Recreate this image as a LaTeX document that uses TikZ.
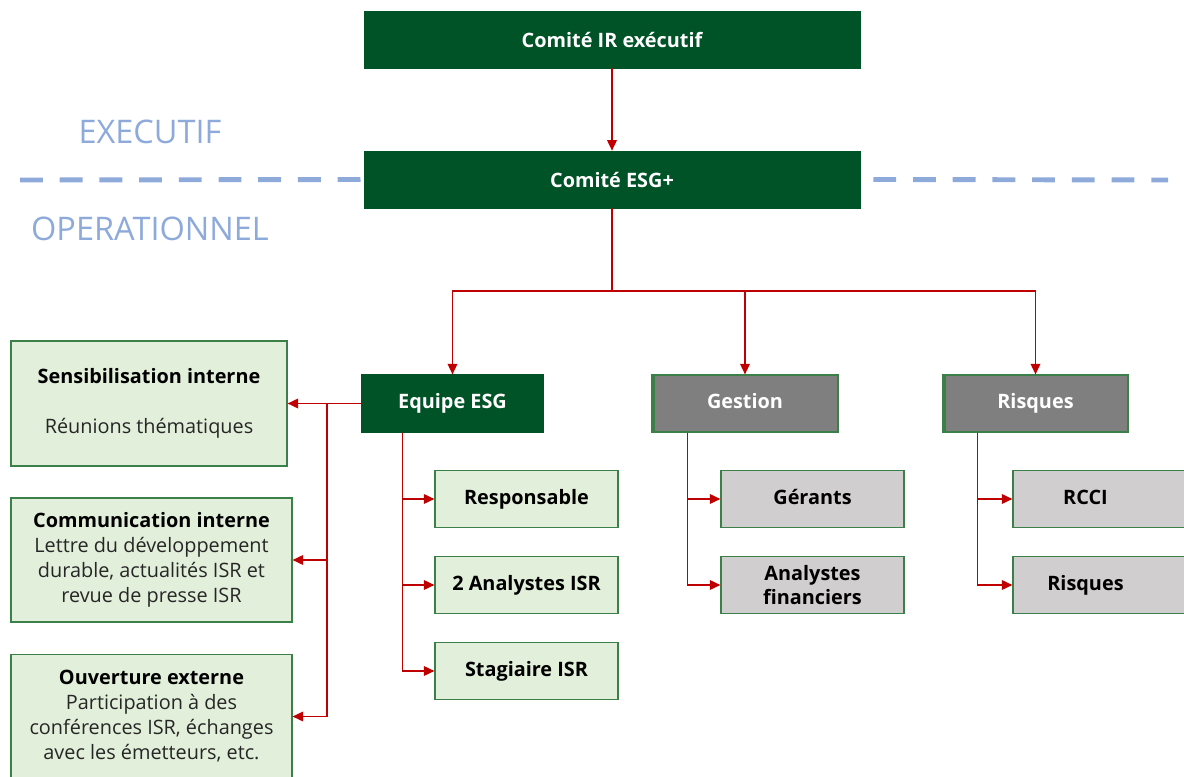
\documentclass[tikz,border=0pt]{standalone}
\usepackage{fontspec}
\setmainfont{Open Sans}
\usetikzlibrary{arrows.meta,calc}
\definecolor{esggreen}{RGB}{0,82,39}
\definecolor{boxgreen}{RGB}{226,239,218}
\definecolor{edgegreen}{RGB}{58,128,72}
\definecolor{childgray}{RGB}{208,206,206}
\definecolor{headgray}{RGB}{127,127,127}
\definecolor{linkred}{RGB}{192,0,0}
\definecolor{sepblue}{RGB}{142,170,219}
\definecolor{bodytext}{RGB}{38,38,38}

\begin{document}
\begin{tikzpicture}[x=0.02cm,y=-0.02cm,
    fixline/.style={text height=1.55ex,text depth=0.45ex},
    topbox/.style={draw=esggreen,fill=esggreen,text=white,inner sep=0pt,
        font=\bfseries\fontsize{11.3}{13}\selectfont,minimum width=9.92cm,minimum height=1.14cm},
    headbox/.style={draw=edgegreen,line width=0.7pt,inner sep=0pt,text=white,fixline,
        font=\bfseries\fontsize{11.3}{13}\selectfont,minimum height=1.14cm},
    subbox/.style={draw=edgegreen,line width=0.7pt,inner sep=0pt,align=center,
        font=\bfseries\fontsize{11.3}{13.5}\selectfont,minimum width=3.66cm,minimum height=1.13cm},
    sidebox/.style={draw=edgegreen,fill=boxgreen,line width=0.7pt,inner sep=0pt,align=center,
        text=bodytext,font=\fontsize{11.3}{14.2}\selectfont,minimum height=2.48cm},
    levellabel/.style={text=sepblue,font=\fontsize{18.5}{22}\selectfont},
    link/.style={draw=linkred,line width=0.8pt,-{Triangle[length=6pt,width=5.5pt]}},
    plainlink/.style={draw=linkred,line width=0.8pt}
]
    \useasboundingbox (0,0) rectangle (1184,777);
    \clip (0,0) rectangle (1184,777);
    % comites
    \node[topbox] (ir) at (612,39.5) {Comité IR exécutif};
    \node[topbox] (esg) at (612,179.5) {Comité ESG+};
    \draw[link] (ir) -- (esg);
    \draw[sepblue,line width=2.8pt,dash pattern=on 13pt off 9.6pt]
        (20,180) -- (esg.west)
        ($(esg.east)+(13,0)$) -- (1168,180);
    \node[levellabel] (exec) at (150,132) {EXECUTIF};
    \node[levellabel] (oper) at (150,229) {OPERATIONNEL};
    % equipes
    \node[headbox,fill=esggreen,draw=esggreen,minimum width=3.62cm] (equipe) at (452.5,403.5) {Equipe ESG};
    \node[headbox,fill=headgray,minimum width=3.72cm] (gestion) at (745,403.5) {Gestion};
    \node[headbox,fill=headgray,minimum width=3.7cm] (risques) at (1035.5,403.5) {Risques};
    \draw[edgegreen,line width=0.7pt]
        ($(gestion.north west)+(2.5,0)$) -- ($(gestion.south west)+(2.5,0)$)
        ($(risques.north west)+(2.5,0)$) -- ($(risques.south west)+(2.5,0)$);
    \coordinate (hub) at (612,291);
    \draw[plainlink] (esg.south) -- (hub);
    \draw[link] (hub) -| (equipe.north);
    \draw[link] (hub) -| (gestion.north);
    \draw[link] (hub) -| (risques.north);
    % sous-boites
    \node[subbox,fixline,fill=boxgreen] (resp) at (526.5,499) {Responsable};
    \node[subbox,fixline,fill=boxgreen] (analystes) at (526.5,585) {2 Analystes ISR};
    \node[subbox,fixline,fill=boxgreen] (stagiaire) at (526.5,671) {Stagiaire ISR};
    \node[subbox,fixline,fill=childgray] (gerants) at (812.5,499) {Gérants};
    \node[subbox,fill=childgray] (financiers) at (812.5,585) {Analystes\\financiers};
    \node[subbox,fixline,fill=childgray] (rcci) at (1104.5,499) {\hspace*{-0.76cm}RCCI};
    \node[subbox,fixline,fill=childgray] (risq2) at (1104.5,585) {\hspace*{-0.76cm}Risques};
    \coordinate (eqdrop) at ($(equipe.south west)+(41,0)$);
    \coordinate (gedrop) at ($(gestion.south west)+(36,0)$);
    \coordinate (ridrop) at ($(risques.south west)+(35,0)$);
    \draw[link] (eqdrop) |- (resp.west);
    \draw[link] (eqdrop) |- (analystes.west);
    \draw[link] (eqdrop) |- (stagiaire.west);
    \draw[link] (gedrop) |- (gerants.west);
    \draw[link] (gedrop) |- (financiers.west);
    \draw[link] (ridrop) |- (rcci.west);
    \draw[link] (ridrop) |- (risq2.west);
    % actions
    \node[sidebox,minimum width=5.52cm,minimum height=2.5cm] (sensib) at (149,403.5)
        {\textcolor{black}{\bfseries Sensibilisation interne}\\[14pt]Réunions thématiques};
    \node[sidebox,minimum width=5.62cm] (comm) at (151.5,560)
        {\textcolor{black}{\bfseries Communication interne}\\Lettre du développement\\durable, actualités ISR et\\revue de presse ISR};
    \node[sidebox,minimum width=5.62cm] (ouverture) at (151.5,716.5)
        {\textcolor{black}{\bfseries Ouverture externe}\\Participation à des\\conférences ISR, échanges\\avec les émetteurs, etc.};
    \coordinate (lsplit) at (327,403.5);
    \draw[link] (equipe.west) -- (sensib.east);
    \draw[link] (lsplit) |- (comm.east);
    \draw[link] (lsplit) |- (ouverture.east);
\end{tikzpicture}
\end{document}
